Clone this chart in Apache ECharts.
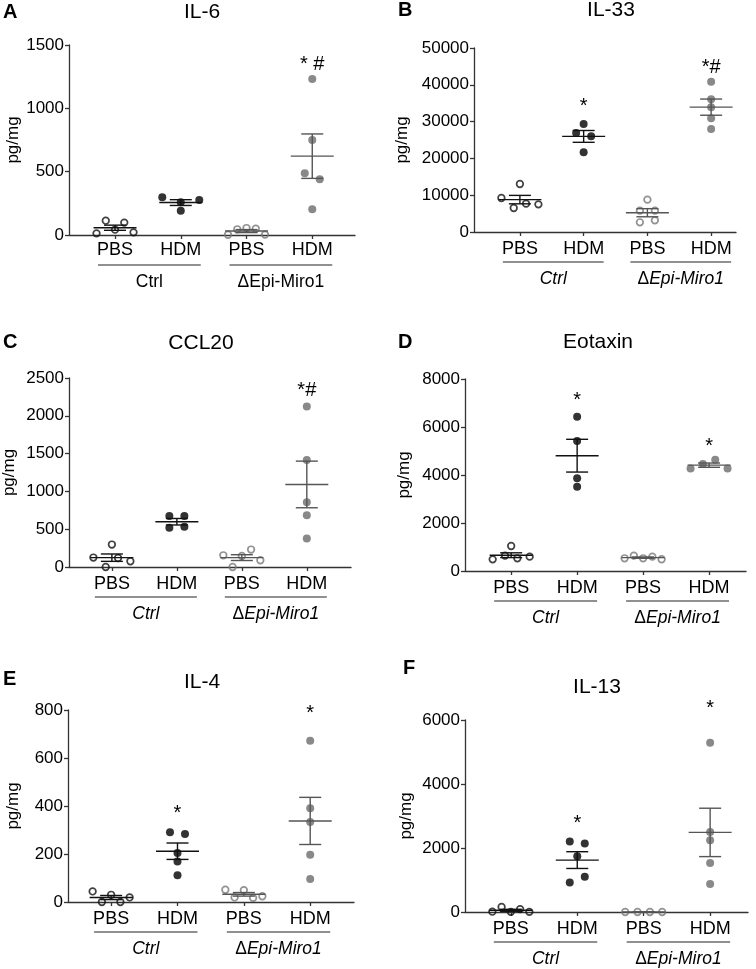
<!DOCTYPE html>
<html>
<head>
<meta charset="utf-8">
<script src="https://cdn.jsdelivr.net/npm/echarts@6/dist/echarts.min.js"></script>
<style>
  html, body { margin: 0; padding: 0; background: #fff; }
  #chart { width: 756px; height: 969px; }
</style>
</head>
<body>
<div id="chart"></div>
<script>
// values per group, listed left to right as drawn: [Ctrl PBS, Ctrl HDM, ΔEpi PBS, ΔEpi HDM]
const il6     = [[13,113,42,98,21], [298,258,192,276], [2,45,55,50,3], [1232,750,487,440,203]];
const il33    = [[9240,6520,13040,7700,7520], [26900,29350,26000,21650], [8790,5800,5800,2630,3170], [40840,36050,33880,30890,27990]];
const ccl20   = [[125,0,297,119,76], [673,518,531,673], [155,0,146,231,89], [2124,1416,858,686,376]];
const eotaxin = [[486,639,1042,528,597], [6430,5420,3860,3510], [530,640,530,600,490], [4270,4460,4640,4270]];
const il4     = [[44,0,30,0,19], [291,283,204,169,111], [51,19,49,17,24], [672,391,333,197,96]];
const il13    = [[10,160,5,90,5], [2200,2140,1740,925,1105], [0,0,0,0], [5290,2500,2240,1530,875]];

const letters = ['A','B','C','D','E','F'];
const titles  = ['IL-6','IL-33','CCL20','Eotaxin','IL-4','IL-13'];
const groups  = ['PBS','HDM','PBS','HDM'];
const strains = ['Ctrl','ΔEpi-Miro1'];
const yMax    = [1500, 50000, 2500, 8000, 800, 6000];
const yStep   = [500, 10000, 500, 2000, 200, 2000];
// significance marks and the value level they sit at
const marks   = [['','','','* #'], ['','*','','*#'], ['','','','*#'], ['','*','','*'], ['','*','','*'], ['','*','','*']];
const markY   = [[0,0,0,1369], [0,35055,0,45470], [0,0,0,2381], [0,7237,0,5320], [0,381,0,800], [0,2850,0,6469]];

const values = [il6, il33, ccl20, eotaxin, il4, il13];

// layout
const gridBox = [[69,45,286,190],[474,48,262,184],[69,378,282,189],[465,379,281,192],[68,710,286,192],[465,720,283,192]];
const xRange  = [[-0.70,3.65],[-0.72,3.39],[-0.66,3.68],[-0.70,3.56],[-0.65,3.66],[-0.69,3.57]];
const nameGap = [45, 63, 51, 52, 46, 50];
const labelMargin = [6, 8, 8, 8, 8, 8];
const titlePos  = [[202,12],[611,10],[201,343],[598,342],[202,682],[597,687]];
const letterPos = [[3,12],[398,10],[3,342],[398,342],[3,679],[403,668]];
const italic = [false, true, true, true, true, true];

const FONT = '"Liberation Sans", Arial, Helvetica, sans-serif';
const AXIS = '#333';
const DARK = '#111';
const GRAY = '#6b6b6b';

const mean = a => a.reduce((s, v) => s + v, 0) / a.length;
const sem = a => {
  const m = mean(a);
  return Math.sqrt(a.reduce((s, v) => s + (v - m) * (v - m), 0) / (a.length - 1)) / Math.sqrt(a.length);
};

// spread overlapping points sideways, like a column scatter
function spread(vals, pxPerY, unitPerPx){
  const idx = vals.map((v, i) => i).sort((a, b) => vals[a] - vals[b]);
  const clusters = [];
  let cur = [idx[0]];
  for(let k = 1; k < idx.length; k++){
    if((vals[idx[k]] - vals[idx[k-1]]) * pxPerY < 7.5) cur.push(idx[k]);
    else { clusters.push(cur); cur = [idx[k]]; }
  }
  clusters.push(cur);
  const off = vals.map(() => 0);
  clusters.forEach(c => {
    const n = c.length;
    if(n < 2) return;
    c.sort((a, b) => a - b);
    const w = n === 2 ? 15 : 37;
    c.forEach((i, j) => { off[i] = (j / (n - 1) - 0.5) * w * unitPerPx; });
  });
  return off;
}

const grid = [], xAxis = [], yAxis = [], series = [], graphic = [];

values.forEach((panel, p) => {
  const [gl, gt, gw, gh] = gridBox[p];
  grid.push({left: gl, top: gt, width: gw, height: gh, outerBoundsMode: 'none'});
  xAxis.push({
    type: 'value', gridIndex: p, min: xRange[p][0], max: xRange[p][1],
    axisLine: {show: true, onZero: false, lineStyle: {color: AXIS, width: 1.3}},
    axisTick: {show: true, length: 4, customValues: [0,1,2,3], lineStyle: {color: AXIS, width: 1.3}},
    axisLabel: {customValues: [0,1,2,3], formatter: v => groups[Math.round(v)], color: '#000',
      fontSize: 18, fontFamily: FONT, margin: labelMargin[p]},
    splitLine: {show: false}
  });
  yAxis.push({
    type: 'value', gridIndex: p, min: 0, max: yMax[p], interval: yStep[p],
    name: 'pg/mg', nameLocation: 'middle', nameGap: nameGap[p],
    nameTextStyle: {fontSize: 17, fontFamily: FONT, color: '#000'},
    axisLine: {show: true, onZero: false, lineStyle: {color: AXIS, width: 1.3}},
    axisTick: {show: true, length: 4, lineStyle: {color: AXIS, width: 1.3}},
    axisLabel: {color: '#000', fontSize: 17, fontFamily: FONT, margin: 5, formatter: v => String(v)},
    splitLine: {show: false}
  });

  const pxPerY = gh / yMax[p];
  const unitPerPx = (xRange[p][1] - xRange[p][0]) / gw;
  panel.forEach((vals, g) => {
    const off = spread(vals, pxPerY, unitPerPx);
    const open = g % 2 === 0, ko = g >= 2;
    series.push({
      type: 'scatter', xAxisIndex: p, yAxisIndex: p, clip: false, z: 3, silent: true,
      symbol: 'circle', symbolSize: open ? 6.6 : 8,
      itemStyle: open
        ? {color: 'rgba(255,255,255,0)', borderColor: ko ? '#777' : DARK, borderWidth: 1.7}
        : {color: ko ? GRAY : '#000'},
      data: vals.map((v, i) => [g + off[i], v])
    });
  });

  // mean ± SEM
  series.push({
    type: 'custom', xAxisIndex: p, yAxisIndex: p, z: 4, silent: true,
    data: panel.map((vals, g) => [g, mean(vals), sem(vals)]),
    renderItem: (params, api) => {
      const g = api.value(0), m = api.value(1), s = api.value(2);
      const c = api.coord([g, m]), t = api.coord([g, m + s]), b = api.coord([g, m - s]);
      const st = {stroke: g >= 2 ? '#555' : DARK, lineWidth: 1.4};
      return {type: 'group', children: [
        {type: 'line', shape: {x1: c[0]-21.5, y1: c[1], x2: c[0]+21.5, y2: c[1]}, style: st},
        {type: 'line', shape: {x1: c[0], y1: t[1], x2: c[0], y2: b[1]}, style: st},
        {type: 'line', shape: {x1: c[0]-11, y1: t[1], x2: c[0]+11, y2: t[1]}, style: st},
        {type: 'line', shape: {x1: c[0]-11, y1: b[1], x2: c[0]+11, y2: b[1]}, style: st}
      ]};
    }
  });

  // strain underline + label
  series.push({
    type: 'custom', xAxisIndex: p, yAxisIndex: p, z: 4, silent: true,
    data: [[0, 1], [2, 3]],
    renderItem: (params, api) => {
      const a = api.coord([api.value(0), 0]), b = api.coord([api.value(1), 0]);
      const x1 = a[0] - 17, x2 = b[0] + 20, y = a[1] + 30;
      const name = strains[params.dataIndex];
      const it = italic[p];
      let text = name;
      if(it) text = name[0] === 'Δ' ? '{d|Δ}{i|' + name.slice(1) + '}' : '{i|' + name + '}';
      return {type: 'group', children: [
        {type: 'line', shape: {x1, y1: y, x2, y2: y}, style: {stroke: '#222', lineWidth: 1.2}},
        {type: 'text', style: {
          text, x: (x1 + x2) / 2, y: a[1] + 47, textAlign: 'center', textVerticalAlign: 'middle',
          align: 'center', verticalAlign: 'middle', fill: '#000',
          fontSize: 17.5, fontFamily: FONT,
          rich: {d: {fontSize: 17.5, fontFamily: FONT, fontStyle: 'normal', fill: '#000'},
                 i: {fontSize: 17.5, fontFamily: FONT, fontStyle: 'italic', fill: '#000'}}
        }}
      ]};
    }
  });

  // significance marks
  const mk = [];
  marks[p].forEach((t, g) => { if(t) mk.push([g, markY[p][g]]); });
  const mkText = marks[p].filter(t => t);
  series.push({
    type: 'custom', xAxisIndex: p, yAxisIndex: p, z: 5, silent: true,
    data: mk,
    renderItem: (params, api) => {
      const c = api.coord([api.value(0), api.value(1)]);
      return {type: 'text', style: {
        text: mkText[params.dataIndex], x: c[0], y: c[1] + 3,
        textAlign: 'center', textVerticalAlign: 'middle', align: 'center', verticalAlign: 'middle',
        fill: '#000', fontSize: 20, fontFamily: FONT
      }};
    }
  });

  graphic.push({type: 'text', x: titlePos[p][0], y: titlePos[p][1], style: {
    text: titles[p], textAlign: 'center', textVerticalAlign: 'middle', align: 'center', verticalAlign: 'middle',
    fill: '#000', fontSize: 21, fontFamily: FONT}});
  graphic.push({type: 'text', x: letterPos[p][0], y: letterPos[p][1], style: {
    text: letters[p], textAlign: 'left', textVerticalAlign: 'middle', align: 'left', verticalAlign: 'middle',
    fill: '#000', fontSize: 20, fontWeight: 'bold', fontFamily: FONT}});
});

const chart = echarts.init(document.getElementById('chart'), null, {renderer: 'canvas'});
chart.setOption({
  backgroundColor: '#fff',
  animation: false,
  grid, xAxis, yAxis, series, graphic
});
</script>
</body>
</html>
